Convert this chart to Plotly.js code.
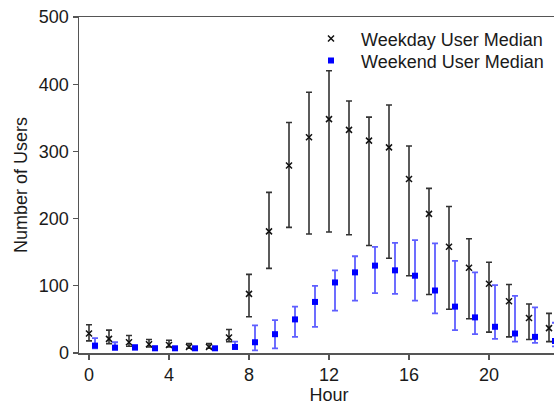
<!DOCTYPE html>
<html>
<head>
<meta charset="utf-8">
<script src="https://cdn.plot.ly/plotly-3.0.1.min.js"></script>
<style>
html, body { margin: 0; padding: 0; overflow: hidden; background: #fff; width: 554px; height: 405px; }
#chart { width: 600px; height: 405px; }
</style>
</head>
<body>
<div id="chart"></div>
<script>
// Hours of day
const hours = [0,1,2,3,4,5,6,7,8,9,10,11,12,13,14,15,16,17,18,19,20,21,22,23];

// Weekday user median with upper / lower error limits
const weekdayMedian = [29, 21, 16, 13, 12, 9, 9, 23, 88, 181, 279, 321, 348, 332, 316, 306, 259, 207, 158, 127, 103, 77, 52, 37];
const weekdayUpper  = [42, 34, 26, 20, 19, 14, 14, 35, 117, 239, 343, 388, 420, 375, 351, 369, 308, 245, 218, 170, 135, 102, 73, 59];
const weekdayLower  = [18, 14, 10, 9, 9, 7, 7, 17, 54, 126, 187, 177, 180, 176, 160, 141, 115, 87, 65, 51, 31, 24, 20, 17];

// Weekend user median with upper / lower error limits
const weekendMedian = [11, 8, 8, 7, 7, 7, 7, 9, 16, 28, 50, 76, 105, 120, 130, 123, 115, 93, 69, 53, 39, 29, 24, 18];
const weekendUpper  = [22, 16, 12, 10, 9, 9, 9, 17, 41, 49, 69, 100, 123, 144, 158, 164, 168, 163, 137, 120, 101, 85, 68, 45];
const weekendLower  = [7, 5, 6, 6, 5, 5, 5, 7, 4, 7, 24, 39, 63, 78, 89, 88, 78, 59, 34, 28, 21, 17, 15, 10];

const xTicks = [0, 4, 8, 12, 16, 20];
const yTicks = [0, 100, 200, 300, 400, 500];

const weekendShift = 0.3;

const FONT = '"Liberation Sans", Arial, Helvetica, sans-serif';

const weekday = {
  type: 'scatter',
  mode: 'markers',
  name: 'Weekday User Median',
  legend: 'legend',
  x: hours,
  y: weekdayMedian,
  marker: { symbol: 'x-thin', size: 6, color: '#111', line: { color: '#111', width: 1.5 } },
  error_y: {
    type: 'data', symmetric: false,
    array: weekdayUpper.map((u, i) => u - weekdayMedian[i]),
    arrayminus: weekdayLower.map((l, i) => weekdayMedian[i] - l),
    color: '#333', thickness: 1.6, width: 3
  }
};

const weekend = {
  type: 'scatter',
  mode: 'markers',
  name: 'Weekend User Median',
  legend: 'legend2',
  x: hours.map(h => h + weekendShift),
  y: weekendMedian,
  marker: { symbol: 'square', size: 6, color: '#0000ff' },
  error_y: {
    type: 'data', symmetric: false,
    array: weekendUpper.map((u, i) => u - weekendMedian[i]),
    arrayminus: weekendLower.map((l, i) => weekendMedian[i] - l),
    color: 'rgba(40,40,255,0.75)', thickness: 1.8, width: 3
  }
};

const legendBase = {
  xanchor: 'left', yanchor: 'top',
  bgcolor: 'rgba(0,0,0,0)', borderwidth: 0,
  font: { family: FONT, size: 18, color: '#1a1a1a' },
  itemwidth: 50, tracegroupgap: 0
};

const layout = {
  width: 600,
  height: 405,
  margin: { l: 79, r: 21, t: 17, b: 52 },
  paper_bgcolor: '#fff',
  plot_bgcolor: '#fff',
  font: { family: FONT, size: 18, color: '#1a1a1a' },
  showlegend: true,
  legend: Object.assign({}, legendBase, { x: 0.444, y: 0.99 }),
  legend2: Object.assign({}, legendBase, { x: 0.444, y: 0.9244 }),
  xaxis: {
    range: [-0.5, 24.5],
    tickvals: xTicks,
    ticktext: xTicks.map(String),
    ticks: 'outside', ticklen: 5, tickwidth: 1.2, tickcolor: '#555',
    showline: true, linecolor: '#555', linewidth: 1.5,
    mirror: true,
    showgrid: false, zeroline: false,
    title: { text: 'Hour', font: { family: FONT, size: 18, color: '#1a1a1a' }, standoff: 7 },
    tickfont: { family: FONT, size: 18, color: '#1a1a1a' }
  },
  yaxis: {
    range: [0, 500],
    tickvals: yTicks,
    ticktext: yTicks.map(String),
    ticks: 'outside', ticklen: 5, tickwidth: 1.2, tickcolor: '#555',
    showline: true, linecolor: '#555', linewidth: 1.5,
    mirror: true,
    showgrid: false, zeroline: false,
    title: { text: 'Number of Users', font: { family: FONT, size: 18, color: '#1a1a1a' }, standoff: 6 },
    tickfont: { family: FONT, size: 18, color: '#1a1a1a' }
  }
};

Plotly.newPlot('chart', [weekday, weekend], layout, { displayModeBar: false, staticPlot: true });
</script>
</body>
</html>
